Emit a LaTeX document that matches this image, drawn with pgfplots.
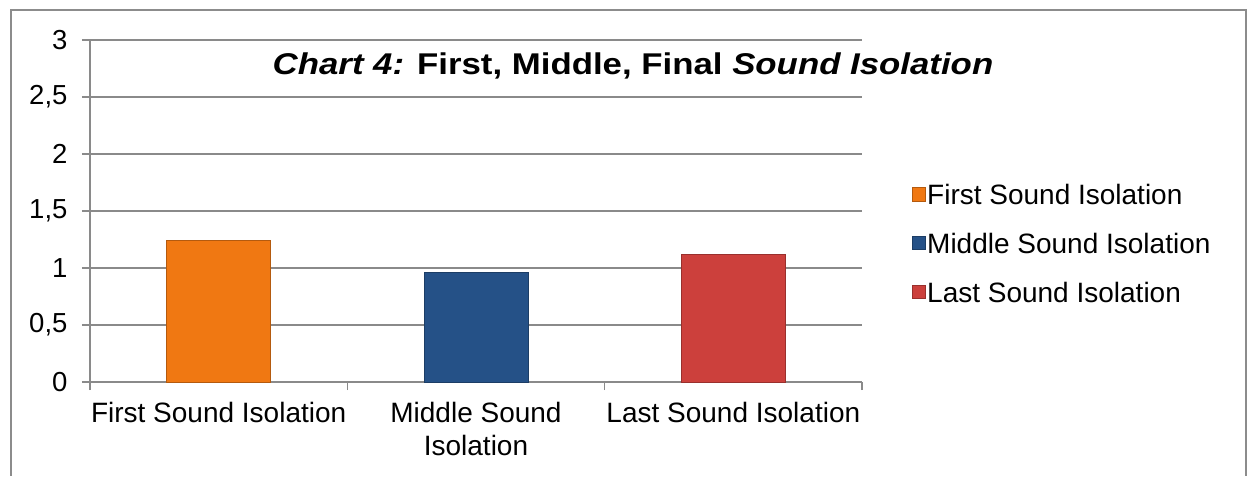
\documentclass[border=0pt]{standalone}
\usepackage{pgfplots}
\pgfplotsset{compat=1.18}
\usepackage{fontspec}
\setmainfont{Liberation Sans}
\definecolor{framegray}{HTML}{8C8C8C}
\definecolor{gridgray}{HTML}{8A8A8A}
\definecolor{barorange}{HTML}{F07812}
\definecolor{barblue}{HTML}{255187}
\definecolor{barred}{HTML}{CC403C}
\begin{document}
\begin{tikzpicture}[x=1pt,y=1pt]
\path (0,0) rectangle (1248,474);
\draw[framegray, line width=1.5pt] (11,-2) -- (11,464) -- (1246,464) -- (1246,-2);
\begin{axis}[
  at={(90pt,92pt)}, anchor=south west,
  scale only axis, width=772pt, height=342pt,
  xmin=-0.5, xmax=2.5, ymin=0, ymax=3,
  axis x line*=bottom, axis y line*=left,
  axis line style={gridgray, line width=1.2pt, -},
  ytick={0,0.5,1,1.5,2,2.5,3},
  yticklabels={0,{0,5},1,{1,5},2,{2,5},3},
  ymajorgrids, grid style={gridgray, line width=1.2pt},
  xtick={-0.5,0.5,1.5,2.5}, xticklabels={},
  extra x ticks={0,1,2},
  extra x tick labels={First Sound Isolation,{Middle Sound\\Isolation},Last Sound Isolation},
  extra x tick style={major tick length=0pt, grid=none,
     xticklabel style={align=center, font=\fontsize{28}{33}\selectfont, yshift=-17pt}},
  tick align=outside, major tick length=8pt,
  tick style={gridgray, line width=1.2pt},
  yticklabel style={font=\fontsize{27.5}{30}\selectfont, xshift=-11pt},
  /pgf/number format/assume math mode=true,
  ybar, bar width=104pt, bar shift=0pt,
  legend style={at={(1.065,0.582)}, anchor=north west, draw=none, fill=none,
     font=\fontsize{28}{32}\selectfont, row sep=25pt, inner sep=0pt,
     nodes={inner sep=1pt, anchor=west}},
  legend cell align=left,
  legend image code/.code={\fill[#1] (0pt,-6pt) rectangle (13pt,7.5pt);},
]
\addplot[fill=barorange, draw=barorange!75!black, line width=0.8pt] coordinates {(0,1.24)};
\addplot[fill=barblue, draw=barblue!75!black, line width=0.8pt] coordinates {(1,0.96)};
\addplot[fill=barred, draw=barred!75!black, line width=0.8pt] coordinates {(2,1.12)};
\legend{First Sound Isolation, Middle Sound Isolation, Last Sound Isolation}
\end{axis}
\node[font=\bfseries\fontsize{30}{33}\selectfont, anchor=center, xscale=1.16, transform shape] at (633,408)
  {\textit{Chart 4:} First, Middle, Final \textit{Sound Isolation}};
\end{tikzpicture}
\end{document}
